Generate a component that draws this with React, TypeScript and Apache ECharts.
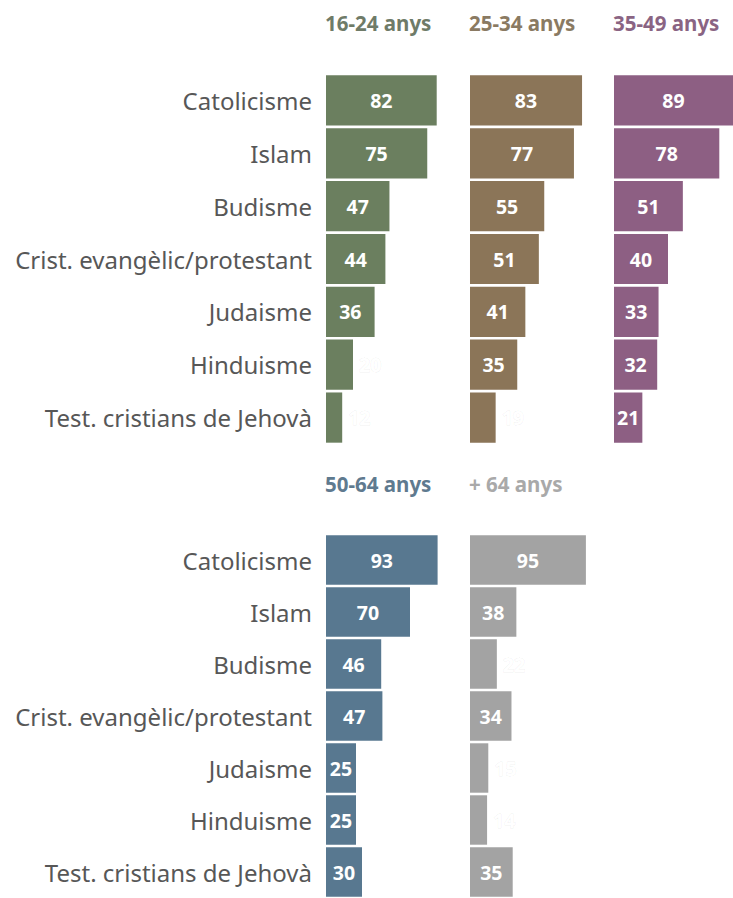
import React, { useEffect, useRef } from "react";
import * as echarts from "echarts";

const categories = [
  "Catolicisme",
  "Islam",
  "Budisme",
  "Crist. evangèlic/protestant",
  "Judaisme",
  "Hinduisme",
  "Test. cristians de Jehovà",
];

const groups = ["16-24 anys", "25-34 anys", "35-49 anys", "50-64 anys", "+ 64 anys"];
const v1624 = [82, 75, 47, 44, 36, 20, 12];
const v2534 = [83, 77, 55, 51, 41, 35, 19];
const v3549 = [89, 78, 51, 40, 33, 32, 21];
const v5064 = [93, 70, 46, 47, 25, 25, 30];
const v64 = [95, 38, 22, 34, 15, 14, 35];
const colors = ["#6b7f5f", "#8b7558", "#8d5f83", "#587890", "#a3a3a3"];
const titleColors = ["#6f7b68", "#8a7a62", "#8a6483", "#5f7a8f", "#a9a9a9"];

const FONT = "Noto Sans";

export default function App() {
  const ref = useRef<HTMLDivElement>(null);
  useEffect(() => {
    document.body.style.margin = "0";
    const chart = echarts.init(ref.current!, null, { renderer: "svg" });
    const all = [v1624, v2534, v3549, v5064, v64];
    // scale: px per unit for each panel
    const unit = [1.35, 1.35, 1.35, 1.2, 1.22];
    const panels = [
      { left: 326, top: 74, height: 370, width: 135 },
      { left: 470, top: 74, height: 370, width: 135 },
      { left: 614, top: 74, height: 370, width: 119 },
      { left: 326, top: 534, height: 372, width: 120 },
      { left: 470, top: 534, height: 372, width: 122 },
    ];
    const option: any = {
      animation: false,
      backgroundColor: "#ffffff",
      title: groups.map((g, i) => ({
        text: g,
        left: panels[i].left - 1,
        top: i < 3 ? 12 : 473,
        padding: 0,
        textStyle: { fontFamily: FONT, fontSize: 20.5, fontWeight: "bold", color: titleColors[i] },
      })),
      grid: panels.map((p) => ({ left: p.left, top: p.top, width: p.width, height: p.height })),
      xAxis: panels.map((p, i) => ({
        type: "value",
        gridIndex: i,
        min: 0,
        max: p.width / unit[i],
        show: false,
      })),
      yAxis: panels.map((_, i) => ({
        type: "category",
        gridIndex: i,
        data: categories,
        inverse: true,
        axisLine: { show: false },
        axisTick: { show: false },
        splitLine: { show: false },
        axisLabel: {
          show: i === 0 || i === 3,
          margin: 14,
          fontFamily: FONT,
          fontSize: 24,
          color: "#575757",
        },
      })),
      series: all.map((vals, i) => ({
        type: "bar",
        xAxisIndex: i,
        yAxisIndex: i,
        barCategoryGap: "5%",
        clip: true,
        itemStyle: { color: colors[i] },
        data: vals.map((v) => {
          const px = v * unit[i];
          const inside = px >= 28;
          return {
            value: v,
            label: {
              show: true,
              position: inside ? "inside" : "right",
              distance: 6,
              color: "#ffffff",
              fontFamily: FONT,
              fontSize: 19.5,
              fontWeight: "bold",
              textBorderColor: inside ? "transparent" : "rgba(0,0,0,0.07)",
              textBorderWidth: inside ? 0 : 1,
            },
          };
        }),
      })),
    };
    chart.setOption(option);
    return () => chart.dispose();
  }, []);
  return <div ref={ref} style={{ width: 733, height: 898 }} />;
}
